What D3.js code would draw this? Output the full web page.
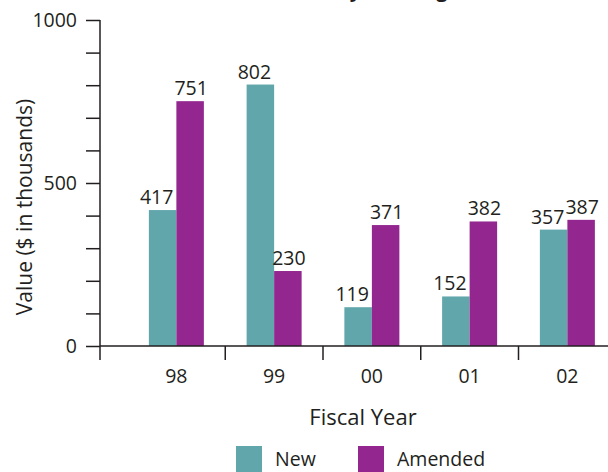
<!DOCTYPE html>
<html>
<head>
<meta charset="utf-8">
<script src="https://cdn.jsdelivr.net/npm/d3@7"></script>
<style>
  html, body { margin: 0; padding: 0; background: #ffffff; }
  svg { display: block; }
  text { font-family: "Open Sans", "Noto Sans", sans-serif; fill: #231f20; }
</style>
</head>
<body>
<svg id="chart" width="608" height="472"></svg>
<script>
// Fiscal years and contract values ($ in thousands)
const years = ["98", "99", "00", "01", "02"];
const newValues = [417, 802, 119, 152, 357];
const amendedValues = [751, 230, 371, 382, 387];
const seriesNames = ["New", "Amended"];
const seriesColors = ["#60a6aa", "#93278f"];
const yTicks = [0, 500, 1000];

const svg = d3.select("#chart");
const ink = "#231f20";

const axisX = 100, axisY = 346, topY = 20;

const y = d3.scaleLinear().domain([0, 1000]).range([axisY, topY]);
const x = d3.scaleBand().domain(years).range([127.5, 616.25]).paddingInner(0).paddingOuter(0);
const barW = 27.5;
const sub = d3.scaleBand().domain(seriesNames).range([x.bandwidth() / 2 - barW, x.bandwidth() / 2 + barW]);

// Title (runs off the top edge)
svg.append("text")
  .attr("x", 378).attr("y", -3)
  .attr("text-anchor", "middle")
  .style("font-size", "20px").style("font-weight", "bold")
  .text("Value of Elderly Housing Contracts");

// Bars
const rows = years.map((yr, i) => ({ year: yr, vals: [newValues[i], amendedValues[i]] }));
const groups = svg.append("g").selectAll("g").data(rows).join("g")
  .attr("transform", d => `translate(${x(d.year)},0)`);

const labelShift = [-6, 1];
groups.selectAll("rect")
  .data(d => d.vals.map((v, k) => ({ v, k })))
  .join("rect")
  .attr("x", d => sub(seriesNames[d.k]))
  .attr("width", sub.bandwidth())
  .attr("y", d => y(d.v))
  .attr("height", d => axisY - y(d.v))
  .attr("fill", d => seriesColors[d.k]);

groups.selectAll("text.val")
  .data(d => d.vals.map((v, k) => ({ v, k })))
  .join("text")
  .attr("class", "val")
  .attr("x", d => sub(seriesNames[d.k]) + sub.bandwidth() / 2 + labelShift[d.k])
  .attr("y", d => y(d.v) - 6)
  .attr("text-anchor", "middle")
  .style("font-size", "19.5px")
  .text(d => d.v);

// Y axis with minor ticks every 100
const yAxis = d3.axisLeft(y).tickValues(d3.range(0, 1001, 100)).tickSize(14).tickPadding(9)
  .tickFormat(d => yTicks.includes(d) ? d : "");
const gy = svg.append("g").attr("transform", `translate(${axisX},0)`).call(yAxis);
gy.select(".domain").attr("d", `M0,${topY}V${axisY + 14}`);
gy.selectAll("line, .domain").attr("stroke", ink).attr("stroke-width", 1.5);
gy.selectAll("text").style("font-size", "19.5px").style("font-family", "'Open Sans', sans-serif").attr("fill", ink);

// X axis: baseline, category boundary ticks, year labels
svg.append("line")
  .attr("x1", axisX).attr("x2", 608).attr("y1", axisY).attr("y2", axisY)
  .attr("stroke", ink).attr("stroke-width", 1.5);

const boundaries = years.slice(1).map(yr => x(yr));
svg.append("g").selectAll("line").data(boundaries).join("line")
  .attr("x1", d => d).attr("x2", d => d)
  .attr("y1", axisY).attr("y2", axisY + 14)
  .attr("stroke", ink).attr("stroke-width", 1.5);

svg.append("g").selectAll("text").data(years).join("text")
  .attr("x", d => x(d) + x.bandwidth() / 2)
  .attr("y", 383)
  .attr("text-anchor", "middle")
  .style("font-size", "19.5px")
  .text(d => d);

// Axis titles
svg.append("text")
  .attr("x", 363).attr("y", 425)
  .attr("text-anchor", "middle")
  .style("font-size", "22px")
  .text("Fiscal Year");

svg.append("text")
  .attr("transform", "translate(32,207) rotate(-90)")
  .attr("text-anchor", "middle")
  .style("font-size", "21px")
  .text("Value ($ in thousands)");

// Legend
const legendX = [236, 358];
const legend = svg.append("g").selectAll("g").data(seriesNames).join("g")
  .attr("transform", (d, i) => `translate(${legendX[i]},446)`);
legend.append("rect").attr("width", 26).attr("height", 27)
  .attr("fill", (d, i) => seriesColors[i]);
legend.append("text").attr("x", 39).attr("y", 20)
  .style("font-size", "19.5px")
  .text(d => d);
</script>
</body>
</html>
